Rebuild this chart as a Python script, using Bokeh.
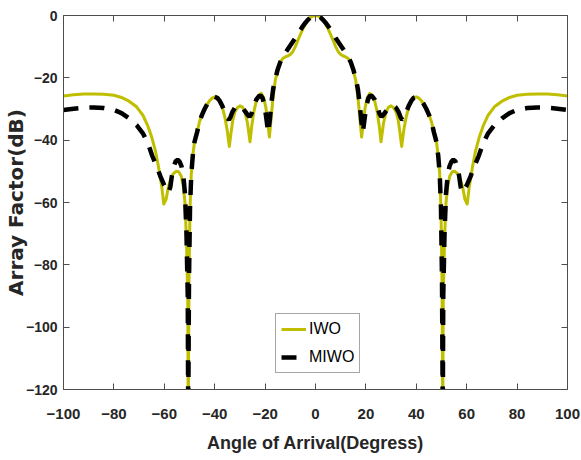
from bokeh.plotting import figure
from bokeh.models import (Legend, LegendItem, LinearAxis, Range1d, FixedTicker,
                          CustomJSTickFormatter)
from bokeh.embed import file_html
from bokeh.resources import INLINE

# ---------------- data ----------------
iwo_angle = [-100, -96, -92, -88, -84, -80, -77, -74, -71, -68.5, -66.5,
             -65, -63.5, -62.2, -61, -60.2, -59.3, -58.5, -57.5, -56.5, -55.3,
             -54.3, -53.3, -52.5, -51.8, -51.2, -50.7, -50.5, -50.2, -49.8, -49.3,
             -48.7, -48, -47, -46, -45, -44, -43, -42, -41, -40,
             -39, -38, -37, -36, -35, -34.2, -33.5, -32.8, -32, -31,
             -30, -29, -28, -27, -26, -25.3, -24.5, -23.5, -22.5, -21.5,
             -20.5, -19.7, -19, -18.3, -17.6, -17, -16, -15, -14, -13,
             -12, -11, -10, -9, -8, -7, -6, -5, -4, -3, -2, -1, 0,
             1, 2, 3, 4, 5, 6, 7, 8, 9, 10, 11, 12, 13, 14, 15, 16, 17,
             17.6, 18.3, 19, 19.7, 20.5, 21.5, 22.5, 23.5, 24.5, 25.3,
             26, 27, 28, 29, 30, 31, 32, 32.8, 33.5, 34.2,
             35, 36, 37, 38, 39, 40, 41, 42, 43, 44,
             45, 46, 47, 48, 48.7, 49.3, 49.8, 50.2, 50.5, 50.7,
             51.2, 51.8, 52.5, 53.3, 54.3, 55.3, 56.5, 57.5, 58.5, 59.3,
             60.2, 61, 62.2, 63.5, 65, 66.5, 68.5, 71, 74, 77,
             80, 84, 88, 92, 96, 100]
iwo_db = [-25.8, -25.4, -25.2, -25.2, -25.3, -25.6, -26.3, -27.5, -29.3, -32, -35.5,
          -39, -43.5, -49, -55, -60.5, -59, -55.5, -52.5, -50.8, -50,
          -50.1, -51.5, -54.5, -60, -72, -90, -130, -85, -62, -51,
          -45, -40.5, -37.5, -34, -31.8, -30, -28.5, -27.3, -26.5, -26.1,
          -26.3, -27.3, -29.3, -32.5, -37, -42, -37.5, -33.5, -31, -29.6,
          -29, -29.4, -31, -34.5, -40.5, -35.5, -31, -27.5, -25.6, -25,
          -26.5, -29.5, -34, -39, -33, -27.5, -21, -17.5, -15, -13.8,
          -13.3, -13, -12.5, -11.6, -10, -8, -6.1, -4.3, -2.8, -1.5, -0.6, -0.15, 0,
          -0.15, -0.6, -1.5, -2.8, -4.3, -6.1, -8, -10, -11.6, -12.5, -13, -13.3, -13.8, -15, -17.5, -21, -27.5,
          -33, -39, -34, -29.5, -26.5, -25, -25.6, -27.5, -31, -35.5,
          -40.5, -34.5, -31, -29.4, -29, -29.6, -31, -33.5, -37.5, -42,
          -37, -32.5, -29.3, -27.3, -26.3, -26.1, -26.5, -27.3, -28.5, -30,
          -31.8, -34, -37.5, -40.5, -45, -51, -62, -85, -130, -90,
          -72, -60, -54.5, -51.5, -50.1, -50, -50.8, -52.5, -55.5, -59,
          -60.5, -55, -49, -43.5, -39, -35.5, -32, -29.3, -27.5, -26.3,
          -25.6, -25.3, -25.2, -25.2, -25.4, -25.8]

miwo_angle = [-100, -96, -92, -88, -84, -80, -77, -74, -71, -68.5, -66.5,
              -64.8, -63, -61.5, -60, -59, -58.3, -57.6, -57, -56.3, -55.5,
              -54.7, -54, -53.2, -52.5, -51.8, -51.2, -50.7, -50.5, -50.2, -49.8,
              -49.3, -48.7, -48, -47, -46, -45, -44, -43, -42, -41,
              -40, -39, -38, -37, -36, -35, -34.4, -33.7, -33, -32,
              -31, -30, -29, -28, -27, -26.2, -25.4, -24.5, -23.5, -22.5,
              -21.7, -21, -20.2, -19.5, -18.8, -18.2, -17.5, -16.8, -16, -15,
              -14, -13, -12, -11, -10, -9, -8, -7, -6, -5, -4, -3, -2, -1, 0,
              1, 2, 3, 4, 5, 6, 7, 8, 9, 10, 11, 12, 13, 14, 15, 16,
              16.8, 17.5, 18.2, 18.8, 19.5, 20.2, 21, 21.7, 22.5, 23.5,
              24.5, 25.4, 26.2, 27, 28, 29, 30, 31, 32, 33,
              33.7, 34.4, 35, 36, 37, 38, 39, 40, 41, 42,
              43, 44, 45, 46, 47, 48, 48.7, 49.3, 49.8, 50.2,
              50.5, 50.7, 51.2, 51.8, 52.5, 53.2, 54, 54.7, 55.5, 56.3,
              57, 57.6, 58.3, 59, 60, 61.5, 63, 64.8, 66.5, 68.5,
              71, 74, 77, 80, 84, 88, 92, 96, 100]
miwo_db = [-30.3, -29.9, -29.6, -29.5, -29.7, -30.3, -31.3, -33, -35.2, -37.8, -41,
           -45, -48.5, -51.7, -54.5, -56, -56.8, -55, -51.5, -48.5, -46.8,
           -46.3, -46.8, -48.3, -51, -57, -70, -90, -130, -85, -62,
           -51, -45, -40.5, -37.5, -34, -31.8, -30, -28.5, -27.3, -26.5,
           -26.1, -26.4, -27.4, -29, -31, -32.8, -33.5, -32.5, -31, -29.6,
           -29, -29.1, -29.7, -30.7, -31.8, -32.5, -31.5, -29.2, -27, -25.9,
           -25.7, -26.5, -29, -33, -37.5, -34, -28, -23.5, -20.5, -17.3,
           -15, -13.3, -12, -10.8, -9.6, -8.4, -7.2, -5.9, -4.6, -3.4, -2.3, -1.4, -0.6, -0.15, 0,
           -0.15, -0.6, -1.4, -2.3, -3.4, -4.6, -5.9, -7.2, -8.4, -9.6, -10.8, -12, -13.3, -15, -17.3, -20.5,
           -23.5, -28, -34, -37.5, -33, -29, -26.5, -25.7, -25.9, -27,
           -29.2, -31.5, -32.5, -31.8, -30.7, -29.7, -29.1, -29, -29.6, -31,
           -32.5, -33.5, -32.8, -31, -29, -27.4, -26.4, -26.1, -26.5, -27.3,
           -28.5, -30, -31.8, -34, -37.5, -40.5, -45, -51, -62, -85,
           -130, -90, -70, -57, -51, -48.3, -46.8, -46.3, -46.8, -48.5,
           -51.5, -55, -56.8, -56, -54.5, -51.7, -48.5, -45, -41, -37.8,
           -35.2, -33, -31.3, -30.3, -29.7, -29.5, -29.6, -29.9, -30.3]

series_names = ["IWO", "MIWO"]
x_ticks = [-100, -80, -60, -40, -20, 0, 20, 40, 60, 80, 100]
y_ticks = [-120, -100, -80, -60, -40, -20, 0]
x_label = "Angle of Arrival(Degress)"
y_label = "Array Factor(dB)"

# ---------------- styling ----------------
SANS = "'Liberation Sans', Arial, sans-serif"
TXT = "#262626"
AX = "#4d4d4d"
YELLOW = "#BFBF00"

p = figure(width=581, height=460, output_backend="svg", toolbar_location=None,
           x_range=Range1d(-100, 100), y_range=Range1d(-120, 0),
           min_border_left=61, min_border_right=14, min_border_top=15, min_border_bottom=71,
           background_fill_color="white", border_fill_color="white")
p.outline_line_color = None
p.grid.visible = False

r1 = p.line(iwo_angle, iwo_db, line_color=YELLOW, line_width=3, line_join="round")
r2 = p.line(miwo_angle, miwo_db, line_color="black", line_width=4.5, line_dash="15 11")

xa = p.xaxis[0]
ya = p.yaxis[0]
xa.ticker = FixedTicker(ticks=x_ticks)
ya.ticker = FixedTicker(ticks=y_ticks)
for ax in (xa, ya):
    ax.axis_line_color = AX
    ax.major_tick_line_color = AX
    ax.major_tick_in = 6
    ax.major_tick_out = 0
    ax.minor_tick_line_color = None
    ax.major_label_text_font = SANS
    ax.major_label_text_font_style = "bold"
    ax.major_label_text_font_size = "15px"
    ax.major_label_text_color = TXT
ya.major_label_text_font_size = "14px"

xa.major_label_standoff = 19
ya.major_label_standoff = 6
xa.axis_label = x_label
xa.axis_label_text_font = SANS
xa.axis_label_text_font_style = "bold"
xa.axis_label_text_font_size = "18px"
xa.axis_label_text_color = TXT
xa.axis_label_standoff = 11

ya.axis_label = y_label
ya.axis_label_text_font = "'DejaVu Sans', sans-serif"
ya.axis_label_text_font_style = "bold"
ya.axis_label_text_font_size = "20px"
ya.axis_label_text_color = TXT
ya.axis_label_standoff = -5

# mirrored box sides with inward ticks (top / right)
blank = CustomJSTickFormatter(code="return ''")
top = LinearAxis(ticker=FixedTicker(ticks=x_ticks), formatter=blank)
right = LinearAxis(ticker=FixedTicker(ticks=y_ticks), formatter=blank)
for ax in (top, right):
    ax.axis_line_color = AX
    ax.major_tick_line_color = AX
    ax.major_tick_in = 6
    ax.major_tick_out = 0
    ax.minor_tick_line_color = None
    ax.major_label_text_font_size = "0px"
    ax.major_label_standoff = 0
p.add_layout(top, "above")
p.add_layout(right, "right")

legend = Legend(items=[LegendItem(label=series_names[0], renderers=[r1]),
                       LegendItem(label=series_names[1], renderers=[r2])],
                location=(212, 16), orientation="vertical")
legend.border_line_color = AX
legend.border_line_width = 1
legend.background_fill_color = "white"
legend.label_text_font = SANS
legend.label_text_font_size = "16px"
legend.label_text_color = "black"
legend.glyph_width = 25
legend.glyph_height = 20
legend.label_height = 20
legend.label_standoff = 3
legend.spacing = 8
legend.padding = 5
legend.margin = 0
p.add_layout(legend, "center")

open("out.html", "w").write(file_html(p, INLINE))
